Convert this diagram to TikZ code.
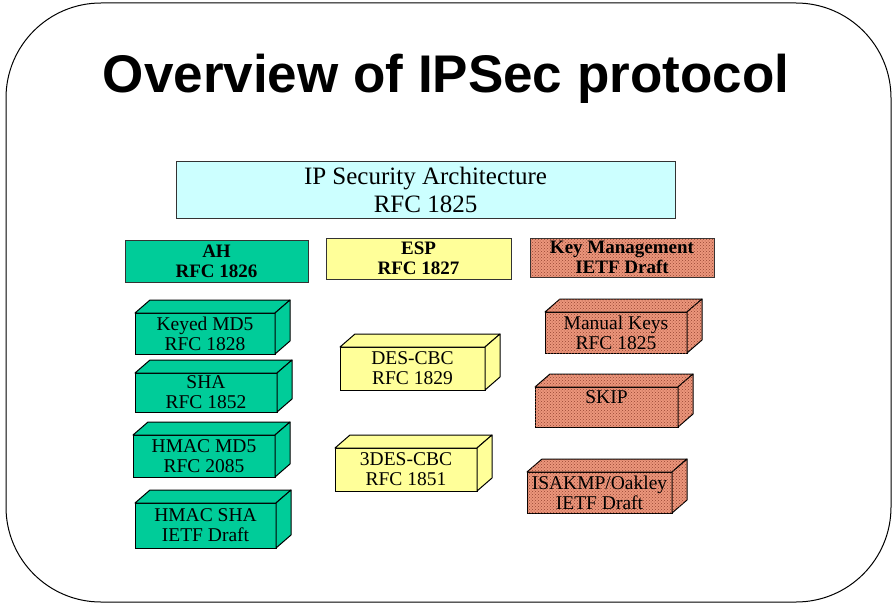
\documentclass[tikz,border=0pt]{standalone}
\usepackage{fontspec}
\setmainfont{Liberation Serif}
\newfontfamily\titlefont{Liberation Sans}
\usetikzlibrary{patterns}

\definecolor{archfill}{RGB}{204,255,255}
\definecolor{ahfill}{RGB}{0,204,153}
\definecolor{espfill}{RGB}{255,255,153}
\definecolor{keyfill}{RGB}{236,150,124}
\definecolor{keydots}{RGB}{150,70,50}

\tikzset{
  frame/.style={draw=black, line width=1pt, rounded corners=95pt},
  ahpaint/.style={fill=ahfill},
  esppaint/.style={fill=espfill},
  keypaint/.style={fill=keyfill, postaction={pattern=crosshatch dots, pattern color=keydots}},
  flatbox/.style={draw=black!80, line width=1pt, inner sep=0pt, outer sep=0pt,
    align=center, font=\fontsize{19}{20}\selectfont\bfseries},
  archbox/.style={draw=black!80, line width=1pt, inner sep=0pt, outer sep=0pt,
    align=center, font=\fontsize{25}{28}\selectfont, fill=archfill},
  cubefront/.style={draw=black, line width=1pt, inner sep=0pt, outer sep=0pt,
    align=center, font=\fontsize{19.5}{20}\selectfont},
  cubeface/.style={draw=black, line width=1pt, line join=round},
}

% A box drawn in three faces: name, x1, y1, x2, y2, paint style, label
\newcommand\solidbox[7]{%
  \node[cubefront, #6, minimum width={(#4-#2)*1pt}, minimum height={(#5-#3)*1pt}]
    (#1) at ({(#2+#4)/2},{(#3+#5)/2}) {#7};
  \draw[cubeface, #6] (#1.north west) -- ++(15,-13)
    -- ([shift={(15,-13)}]#1.north east) -- (#1.north east) -- cycle;
  \draw[cubeface, #6] (#1.north east) -- ([shift={(15,-13)}]#1.north east)
    -- ([shift={(15,-13)}]#1.south east) -- (#1.south east) -- cycle;
}

\begin{document}
\begin{tikzpicture}[x=1pt,y=-1pt]
  \useasboundingbox (0,0) rectangle (896,607);

  % slide frame and heading
  \draw[frame] (6,3) rectangle (891,602);
  \node[font=\titlefont\fontsize{53}{60}\selectfont\bfseries, anchor=base]
    (title) at (446,93) {Overview of IPSec protocol};

  % architecture
  \node[archbox, minimum width=499pt, minimum height=57pt]
    (arch) at (425.5,189.5) {IP Security Architecture\\RFC 1825};

  % protocol headers
  \node[flatbox, ahpaint, minimum width=183pt, minimum height=42pt]
    (ah) at (216.5,261) {AH\\RFC 1826};
  \node[flatbox, esppaint, minimum width=185pt, minimum height=41pt]
    (esp) at (418.5,258.5) {ESP\\RFC 1827};
  \node[flatbox, keypaint, minimum width=184pt, minimum height=39pt]
    (key) at (622,257.5) {Key Management\\IETF Draft};

  % AH algorithms
  \solidbox{md5}{135}{313}{275}{354}{ahpaint}{Keyed MD5\\RFC 1828}
  \solidbox{sha}{135}{373}{277}{412}{ahpaint}{SHA\\RFC 1852}
  \solidbox{hmd5}{133}{435}{275}{477}{ahpaint}{HMAC MD5\\RFC 2085}
  \solidbox{hsha}{135}{503}{276}{548}{ahpaint}{HMAC SHA\\IETF Draft}

  % ESP algorithms
  \solidbox{des}{340}{347}{485}{390}{esppaint}{DES-CBC\\RFC 1829}
  \solidbox{tdes}{335}{448}{477}{491}{esppaint}{3DES-CBC\\RFC 1851}

  % key management methods
  \solidbox{manual}{545}{312}{687}{353}{keypaint}{Manual Keys\\RFC 1825}
  \solidbox{skip}{535}{387}{678}{427}{keypaint}{SKIP\\ }
  \solidbox{isakmp}{527}{472}{672}{513}{keypaint}{ISAKMP/Oakley\\IETF Draft}
\end{tikzpicture}
\end{document}
